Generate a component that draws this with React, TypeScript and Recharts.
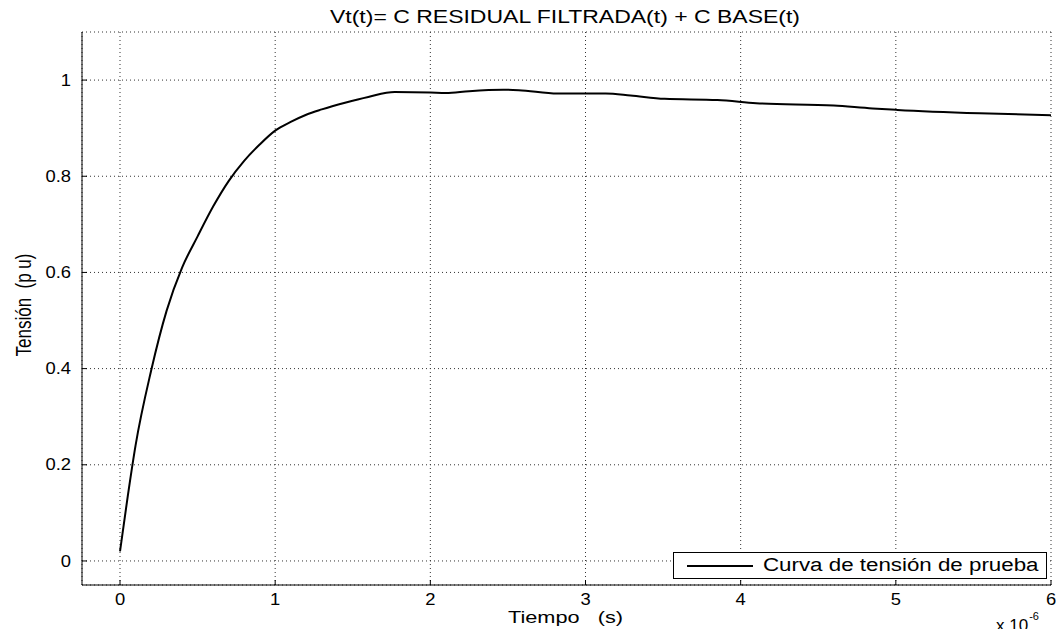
import React from 'react';
import { LineChart, Line, XAxis, YAxis, CartesianGrid, Legend } from 'recharts';

const TIME = [0, 0.05, 0.1, 0.2, 0.3, 0.4, 0.5, 0.6, 0.7, 0.8, 0.9, 1.0, 1.1, 1.2, 1.3, 1.45, 1.6, 1.77, 2.0, 2.1, 2.25, 2.47, 2.57, 2.82, 3.13, 3.29, 3.51, 3.85, 4.1, 4.6, 4.85, 5.01, 5.54, 6.0];
const VOLTAGE = [0.02, 0.135, 0.24, 0.395, 0.52, 0.61, 0.675, 0.737, 0.79, 0.832, 0.866, 0.895, 0.913, 0.928, 0.939, 0.953, 0.965, 0.975, 0.974, 0.973, 0.977, 0.98, 0.979, 0.972, 0.972, 0.968, 0.961, 0.9585, 0.952, 0.947, 0.941, 0.938, 0.931, 0.927];
const X_TICKS = [0, 1, 2, 3, 4, 5, 6];
const Y_TICKS = [0, 0.2, 0.4, 0.6, 0.8, 1];
const SERIES_NAME = 'Curva de tensión de prueba';
const TITLE = 'Vt(t)= C RESIDUAL FILTRADA(t) + C BASE(t)';
const X_LABEL = 'Tiempo   (s)';
const Y_LABEL = 'Tensión  (p u)';
const X_MULTIPLIER = 'x 10';
const X_EXPONENT = '-6';

const data = TIME.map((t, i) => ({ t, v: VOLTAGE[i] }));

const FONT = '"Liberation Sans", Arial, Helvetica, sans-serif';
const W = 1064;
const H = 637;
const STRETCH = 1.15;

const XTick = (props: any) => {
  const { x, y, payload } = props;
  return (
    <text
      transform={`translate(${x},${y}) scale(${STRETCH},1)`}
      textAnchor="middle"
      dy="0.71em"
      fontSize={16}
      fontFamily={FONT}
      fill="#000"
    >
      {payload.value}
    </text>
  );
};

const YTick = (props: any) => {
  const { x, y, payload } = props;
  const label = String(Math.round(payload.value * 10) / 10);
  return (
    <text
      transform={`translate(${x},${y}) scale(${STRETCH},1)`}
      textAnchor="end"
      dy="0.355em"
      fontSize={16}
      fontFamily={FONT}
      fill="#000"
    >
      {label}
    </text>
  );
};

const LegendBox = () => (
  <div
    style={{
      boxSizing: 'border-box',
      width: 374,
      height: 27,
      border: '1px solid #000',
      background: '#fff',
      display: 'flex',
      alignItems: 'center',
      fontFamily: FONT,
      fontSize: 18,
      color: '#000',
      whiteSpace: 'nowrap',
      overflow: 'hidden',
    }}
  >
    <div style={{ width: 66, flex: 'none', borderTop: '2px solid #000', marginLeft: 13, marginRight: 10 }} />
    <span style={{ display: 'inline-block', transform: 'scale(1.24,1)', transformOrigin: 'left center' }}>
      {SERIES_NAME}
    </span>
  </div>
);

export default function App() {
  return (
    <div style={{ position: 'relative', width: W, height: H, margin: -8, background: '#fff' }}>
      <LineChart
        width={W}
        height={H}
        data={data}
        margin={{ top: 32, right: 13, bottom: 0, left: 0 }}
        style={{ fontFamily: FONT }}
      >
        <CartesianGrid stroke="#333" strokeDasharray="1 3" strokeWidth={1} />
        <XAxis
          dataKey="t"
          type="number"
          domain={[-0.245, 6]}
          ticks={X_TICKS}
          allowDataOverflow
          height={52}
          tickSize={-5}
          tickMargin={14}
          axisLine={{ stroke: '#000' }}
          tickLine={{ stroke: '#000' }}
          tick={<XTick />}
          interval={0}
        />
        <XAxis
          xAxisId="top"
          orientation="top"
          dataKey="t"
          type="number"
          domain={[-0.245, 6]}
          ticks={X_TICKS}
          allowDataOverflow
          height={0}
          tickSize={-5}
          tickFormatter={() => ''}
          axisLine={{ stroke: '#000' }}
          tickLine={{ stroke: '#000' }}
          interval={0}
        />
        <YAxis
          type="number"
          domain={[-0.05, 1.1]}
          ticks={Y_TICKS}
          allowDataOverflow
          width={82}
          tickSize={-5}
          tickMargin={16}
          axisLine={{ stroke: '#000' }}
          tickLine={{ stroke: '#000' }}
          tick={<YTick />}
          interval={0}
        />
        <YAxis
          yAxisId="right"
          orientation="right"
          type="number"
          domain={[-0.05, 1.1]}
          ticks={Y_TICKS}
          allowDataOverflow
          width={0}
          tickSize={-5}
          tickFormatter={() => ''}
          axisLine={{ stroke: '#000' }}
          tickLine={{ stroke: '#000' }}
          interval={0}
        />
        <Line
          type="monotone"
          dataKey="v"
          name={SERIES_NAME}
          stroke="#000"
          strokeWidth={2}
          dot={false}
          activeDot={false}
          isAnimationActive={false}
        />
        <Legend
          layout="vertical"
          align="center"
          verticalAlign="middle"
          content={() => <LegendBox />}
          wrapperStyle={{ left: 673, top: 552, width: 374, height: 27 }}
        />
      </LineChart>
      <svg
        width={W}
        height={H}
        style={{ position: 'absolute', left: 0, top: 0, pointerEvents: 'none' }}
        fontFamily={FONT}
      >
        <text x={330} y={23} fontSize={18} fill="#000" textLength={470} lengthAdjust="spacingAndGlyphs">
          {TITLE}
        </text>
        <text
          x={508}
          y={623}
          fontSize={17}
          fill="#000"
          textLength={115}
          lengthAdjust="spacingAndGlyphs"
          style={{ whiteSpace: 'pre' }}
        >
          {X_LABEL}
        </text>
        <text
          x={0}
          y={0}
          transform="translate(31 305) scale(1.27,1) rotate(-90)"
          textAnchor="middle"
          fontSize={17}
          fill="#000"
          style={{ whiteSpace: 'pre' }}
        >
          {Y_LABEL}
        </text>
        <text x={996} y={631} fontSize={17} fill="#000">
          {X_MULTIPLIER}
          <tspan dx={1} dy={-11} fontSize={11}>{X_EXPONENT}</tspan>
        </text>
      </svg>
    </div>
  );
}
